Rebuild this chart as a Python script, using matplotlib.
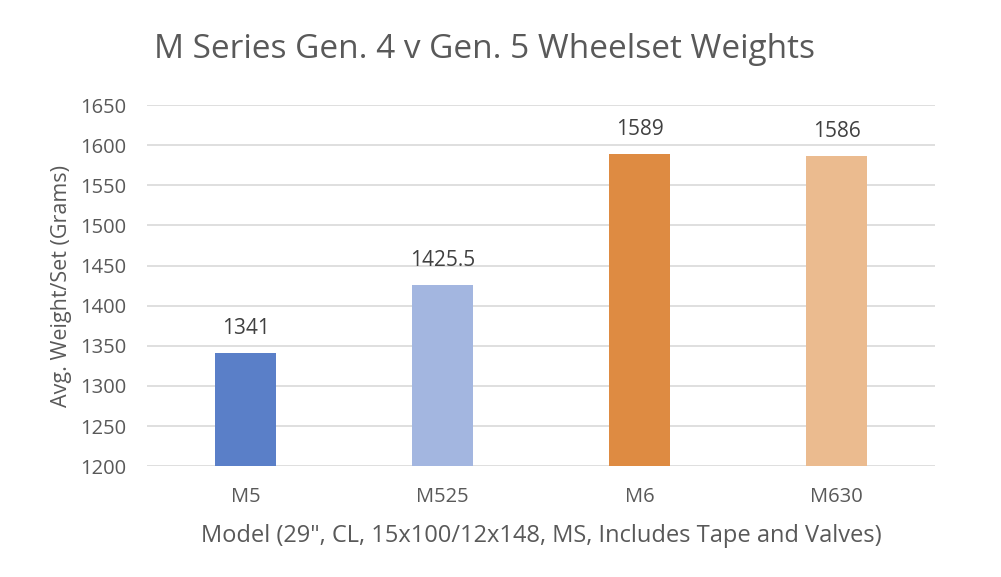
import matplotlib.pyplot as plt

plt.rcParams['font.family'] = ['Open Sans', 'DejaVu Sans']

# data
models = ["M5", "M525", "M6", "M630"]
weights = [1341, 1425.5, 1589, 1586]
labels = ["1341", "1425.5", "1589", "1586"]
colors = ["#5A7FC8", "#A3B6E0", "#DE8B42", "#EBBB8F"]
yticks = [1200, 1250, 1300, 1350, 1400, 1450, 1500, 1550, 1600, 1650]

fig = plt.figure(figsize=(10.01, 5.77), dpi=100)
ax = fig.add_axes([0.147, 0.192, 0.787, 0.626])

x = range(len(models))
bars = ax.bar(x, [w - 1200 for w in weights], bottom=1200, width=0.31, color=colors, zorder=3)
for b, lab in zip(bars, labels):
    ax.text(b.get_x() + b.get_width() / 2, b.get_y() + b.get_height() + 18, lab,
            ha='center', va='bottom', fontsize=15, color='#404040')

ax.set_ylim(1200, 1650)
ax.set_xlim(-0.5, 3.5)
ax.set_yticks(yticks)
ax.set_xticks(list(x))
ax.set_xticklabels(models)
ax.tick_params(axis='both', length=0, labelsize=14.5, labelcolor='#595959')
ax.tick_params(axis='y', pad=15)
ax.tick_params(axis='x', pad=15)
ax.grid(axis='y', color='#D9D9D9', linewidth=1.2, zorder=0)
for s in ax.spines.values():
    s.set_visible(False)

ax.set_ylabel("Avg. Weight/Set (Grams)", fontsize=15.5, color='#595959', labelpad=6)
ax.set_xlabel('Model (29", CL, 15x100/12x148, MS, Includes Tape and Valves)', fontsize=17,
              color='#595959', labelpad=12)
fig.text(0.484, 0.915, "M Series Gen. 4 v Gen. 5 Wheelset Weights", ha='center', va='center',
         fontsize=24, color='#595959')

fig.savefig("out.png", dpi=100)
